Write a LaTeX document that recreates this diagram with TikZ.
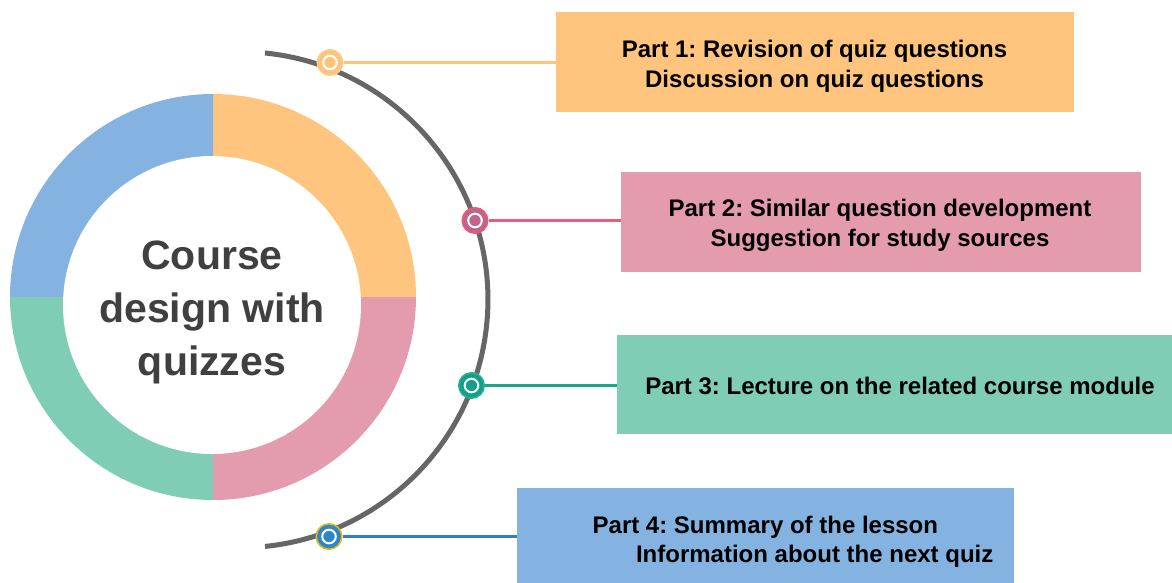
\documentclass[tikz,border=0pt]{standalone}
\usepackage{fontspec}
\setmainfont{Liberation Sans}
\frenchspacing
\definecolor{cOr}{HTML}{FFC47D}
\definecolor{cPk}{HTML}{E49BAE}
\definecolor{cGr}{HTML}{80CDB5}
\definecolor{cBl}{HTML}{84B3E2}
\definecolor{dOr}{HTML}{FFC37A}
\definecolor{eOr}{HTML}{FFCB8C}
\definecolor{dPk}{HTML}{C2638A}
\definecolor{ePk}{HTML}{E85A75}
\definecolor{dGr}{HTML}{13A087}
\definecolor{eGr}{HTML}{22B295}
\definecolor{dBl}{HTML}{2E86C8}
\definecolor{eBl}{HTML}{E2B61E}
\definecolor{lOr}{HTML}{FFC37A}
\definecolor{lPk}{HTML}{F05C78}
\definecolor{lGr}{HTML}{17A88A}
\definecolor{lBl}{HTML}{2F80C0}
\definecolor{arcgray}{HTML}{666666}
\definecolor{titlegray}{HTML}{404040}
\begin{document}
\frenchspacing
\begin{tikzpicture}[x=1pt,y=-1pt,
  box/.style={rectangle, inner sep=0pt, draw=none},
  txt/.style={inner sep=0pt, font=\fontsize{24}{30}\selectfont\bfseries\frenchspacing, text=black},
  dot/.style={circle, inner sep=0pt, minimum size=25.5pt, line width=1.5pt,
    path picture={\draw[white,line width=2pt] (path picture bounding box.center) circle (6.8pt);}},
  conn/.style={line width=3pt}]
\useasboundingbox (0,0) rectangle (1172,582);
\fill[white] (0,0) rectangle (1172,582);
% donut
\begin{scope}
  \clip (213,297) rectangle (420,90);
  \fill[cOr] (213,297) circle (203pt);
\end{scope}
\begin{scope}
  \clip (213,297) rectangle (5,90);
  \fill[cBl] (213,297) circle (203pt);
\end{scope}
\begin{scope}
  \clip (213,297) rectangle (5,505);
  \fill[cGr] (213,297) circle (203pt);
\end{scope}
\begin{scope}
  \clip (213,297) rectangle (420,505);
  \fill[cPk] (213,297) circle (203pt);
\end{scope}
\fill[white] (212,305) circle (149pt);
\node[inner sep=0pt, font=\fontsize{41}{53}\selectfont\bfseries, text=titlegray, align=center] (title) at (212,312.6) {Course\\design with\\quizzes};
% gray arc
\draw[arcgray, line width=5pt] (265,53) arc[start angle=84.2, end angle=-84.2, radius=248pt];
% boxes
\node[box, fill=cOr, minimum width=518pt, minimum height=100pt] (b1) at (815,62) {};
\node[box, fill=cPk, minimum width=520pt, minimum height=100pt] (b2) at (881,222) {};
\node[box, fill=cGr, minimum width=566pt, minimum height=99pt] (b3) at (900,384.5) {};
\node[box, fill=cBl, minimum width=497pt, minimum height=100pt] (b4) at (765.5,538) {};
\node[txt, align=center] (t1) at (814.5,66) {Part 1: Revision of quiz questions\\Discussion on quiz questions};
\node[txt, align=center] (t2) at (880,225.4) {Part 2: Similar question development\\Suggestion for study sources};
\node[txt] (t3) at (900,385.5) {Part 3: Lecture on the related course module};
\node[txt, align=left, font=\fontsize{24}{29}\selectfont\bfseries\frenchspacing] (t4) at (793,541.5) {Part 4: Summary of the lesson\\\hspace*{43.4pt}Information about the next quiz};
% dots
\node[dot, fill=dOr, draw=eOr] (d1) at (330,62.5) {};
\node[dot, fill=dPk, draw=ePk] (d2) at (475,220.5) {};
\node[dot, fill=dGr, draw=eGr] (d3) at (471.5,385.5) {};
\node[dot, fill=dBl, draw=eBl] (d4) at (329,536.5) {};
% connectors
\draw[conn, lOr] (d1.east) -- (b1.west |- d1.east);
\draw[conn, lPk] (d2.east) -- (b2.west |- d2.east);
\draw[conn, lGr] (d3.east) -- (b3.west |- d3.east);
\draw[conn, lBl] (d4.east) -- (b4.west |- d4.east);
\end{tikzpicture}
\end{document}
